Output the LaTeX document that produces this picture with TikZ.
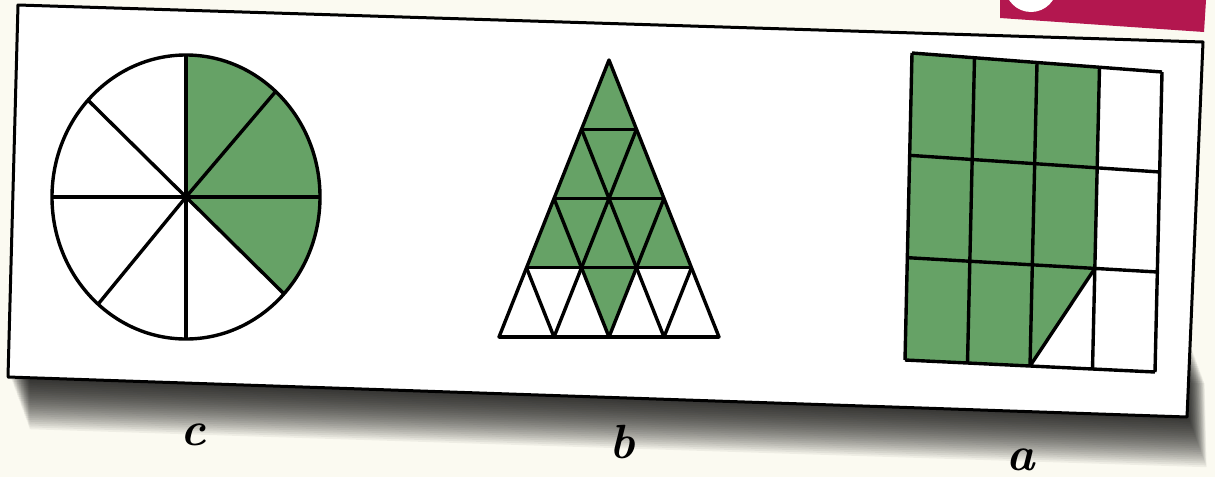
\documentclass[tikz,border=0pt]{standalone}
\usepackage{tikz}
\usepackage{xcolor}
\usetikzlibrary{calc}
\definecolor{leaf}{HTML}{66A266}
\definecolor{paper}{HTML}{FBFAF1}
\definecolor{tabred}{HTML}{B3174F}
\tikzset{
  % outline of every figure
  edge/.style={draw=black, line width=3.4pt, line join=round},
  % the shaded part of a figure
  part/.style={fill=leaf},
  % the white card the figures sit on
  card/.style={fill=white, draw=black, line width=3pt, line join=round},
  % letter under each figure
  tag/.style={font=\fontsize{48}{50}\selectfont\bfseries\itshape,
    anchor=base, inner sep=0pt},
}

\begin{document}
\begin{tikzpicture}[x=1pt, y=-1pt]

  \useasboundingbox (0,0) rectangle (1215,477);
  \clip (0,0) rectangle (1215,477);
  \fill[paper] (0,0) rectangle (1215,477);

  % shadow under the card
  \foreach \k in {1,...,28}
    \fill[black, opacity=0.05, shift={(0.7*\k,1.9*\k)}]
      (10,300) -- (1185,330) -- (1187,414) -- (10,376) -- cycle;

  % red tab, top right
  \fill[tabred] (1000,0) -- (1206,0) -- (1204,32) -- (1000,18) -- cycle;
  \fill[white] (1031,-14) circle (26);

  % card
  \coordinate (nw) at (18,5);
  \coordinate (ne) at (1203,42);
  \coordinate (se) at (1187,417);
  \coordinate (sw) at (8,377);
  \draw[card] (nw) -- (ne) -- (se) -- (sw) -- cycle;

  % c: circle in eighths
  \begin{scope}[shift={(186,197)}, yscale=-1]
    \coordinate (o) at (0,0);
    \fill[part] (o) -- (90:134 and 142)
      arc[start angle=90, end angle=-43, x radius=134, y radius=142] -- cycle;
    \foreach \a in {90,48,0,-43,-90,-131,180,137}
      \draw[edge] (o) -- (\a:134 and 142);
    \draw[edge] (o) ellipse[x radius=134, y radius=142];
  \end{scope}

  % b: triangle in sixteenths
  \foreach \i in {0,...,4}
    \foreach \j in {0,...,4}
      \coordinate (t\i\j) at ({609+27.5*(\j-\i)},{60+69.25*(\i+\j)});
  \fill[part] (t00) -- (t30) -- (t03) -- cycle;
  \fill[part] (t21) -- (t12) -- (t22) -- cycle;
  \foreach \k [evaluate=\k as \m using int(4-\k)] in {1,2,3} {
    \draw[edge] (t\k0) -- (t0\k);
    \draw[edge] (t0\k) -- (t\m\k);
    \draw[edge] (t\k0) -- (t\k\m);
  }
  \draw[edge] (t00) -- (t40) -- (t04) -- cycle;
  \draw[edge, line width=4pt] (t40) -- (t04);

  % a: grid of twelve
  \coordinate (gtl) at (912,53);
  \coordinate (gtr) at (1162,72);
  \coordinate (gbl) at (905,360);
  \coordinate (gbr) at (1155,372);
  \foreach \r in {0,...,3} {
    \coordinate (L\r) at ($(gtl)!\r/3!(gbl)$);
    \coordinate (R\r) at ($(gtr)!\r/3!(gbr)$);
    \foreach \c in {0,...,4}
      \coordinate (g\c\r) at ($(L\r)!\c/4!(R\r)$);
  }
  \fill[part] (g00) -- (g30) -- (g32) -- (g23) -- (g03) -- cycle;
  \foreach \c in {0,...,4}
    \draw[edge] (g\c0) -- (g\c3);
  \foreach \r in {0,...,3}
    \draw[edge] (g0\r) -- (g4\r);
  \draw[edge] (g32) -- (g23);

  % letters
  \node[tag] (lc) at (193,445) {c};
  \node[tag] (lb) at (622,458) {b};
  \node[tag] (la) at (1021,470) {a};

\end{tikzpicture}
\end{document}
